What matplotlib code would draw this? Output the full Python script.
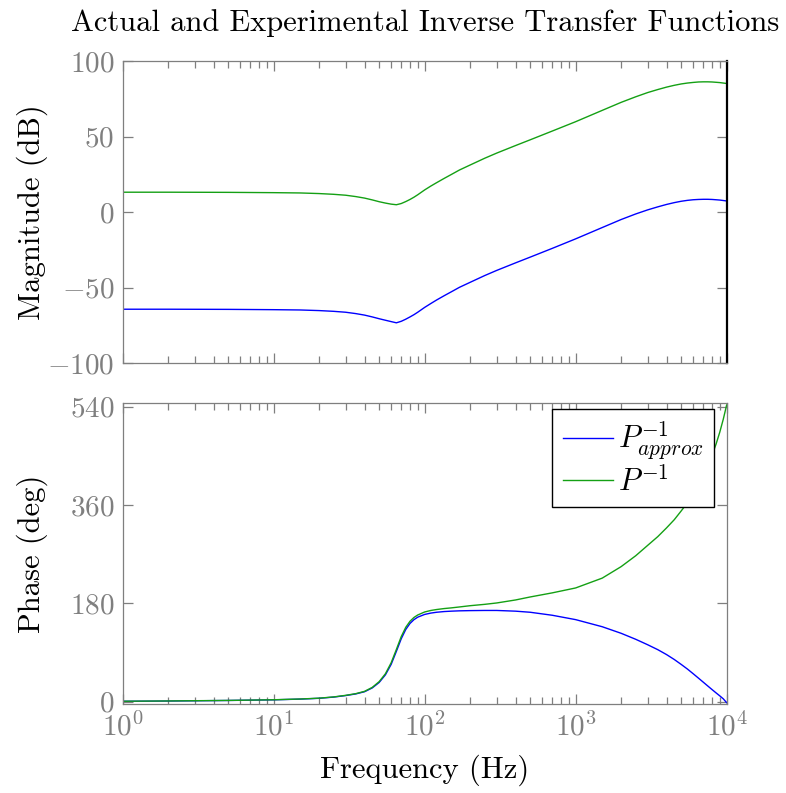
import matplotlib
matplotlib.use('Agg')
from matplotlib import pyplot as plt
from matplotlib.ticker import LogLocator, NullFormatter

plt.rcParams['font.family'] = ['cmr10', 'DejaVu Serif']
plt.rcParams['mathtext.fontset'] = 'cm'
plt.rcParams['axes.formatter.use_mathtext'] = True

# values
freq = [1, 2, 5, 10, 15, 20, 25, 30, 35, 40, 45, 50, 55, 60, 65, 70, 75, 80, 85, 90,
        100, 110, 120, 135, 150, 170, 200, 250, 300, 400, 500, 700, 1000, 1500,
        2000, 2500, 3000, 3500, 4000, 4500, 5000, 5500, 6000, 6500, 7000, 7500,
        8000, 8500, 9000, 9500, 10000]

mag_approx = [-64.2, -64.2, -64.3, -64.5, -64.7, -65.1, -65.6, -66.2, -67.1, -68.1,
              -69.3, -70.5, -71.5, -72.4, -73.2, -72.2, -70.8, -69.3, -67.8, -66.2,
              -63.0, -60.4, -58.1, -55.2, -52.7, -49.7, -46.4, -41.9, -38.5, -33.5,
              -29.7, -23.9, -17.6, -10.1, -4.8, -1.1, 1.6, 3.6, 5.2, 6.4, 7.3, 7.9,
              8.3, 8.5, 8.6, 8.6, 8.5, 8.3, 8.1, 7.8, 7.5]
mag_exact = [13.3, 13.3, 13.2, 13.0, 12.8, 12.4, 11.9, 11.3, 10.4, 9.4, 8.2, 7.0,
             6.1, 5.4, 5.0, 5.8, 7.1, 8.5, 10.0, 11.6, 14.8, 17.4, 19.6, 22.5, 25.0,
             28.0, 31.3, 35.8, 39.2, 44.2, 48.0, 53.8, 60.0, 67.5, 72.8, 76.5, 79.3,
             81.3, 82.9, 84.1, 85.0, 85.6, 86.0, 86.3, 86.4, 86.4, 86.3, 86.1, 85.9,
             85.6, 85.3]

ph_approx = [0.5, 1.0, 2.0, 3.2, 4.5, 6.0, 8.2, 11.0, 14.0, 18.0, 25.0, 35.0, 49.0,
             68.0, 92.0, 115.0, 132.0, 143.0, 150.0, 154.5, 159.5, 162.0, 163.5,
             164.8, 165.5, 166.1, 166.5, 166.8, 166.8, 165.5, 163.5, 158.0, 150.0,
             137.0, 125.0, 114.0, 104.0, 95.0, 86.0, 77.0, 68.0, 59.5, 51.0, 43.0,
             35.5, 28.5, 22.0, 16.0, 10.5, 5.0, -2.0]
ph_exact = [0.6, 1.1, 2.1, 3.3, 4.7, 6.2, 8.5, 11.4, 14.5, 18.7, 26.0, 36.5, 51.0,
            71.0, 95.5, 119.0, 136.0, 147.0, 154.0, 158.5, 164.0, 166.8, 168.5,
            170.3, 171.5, 173.2, 175.5, 178.0, 180.5, 186.0, 191.5, 199.0, 208.0,
            226.0, 247.0, 267.0, 286.0, 302.0, 318.0, 333.0, 349.0, 364.0, 379.0,
            395.0, 413.0, 432.0, 451.0, 471.0, 493.0, 517.0, 543.0]

BLUE = '#0000ff'
GREEN = '#14a014'
GREY = '#7f7f7f'
FS = 22
TICK_FS = 21

fig = plt.figure(figsize=(7.86, 7.93), dpi=100)
ax1 = fig.add_axes([0.156, 0.5419, 0.7685, 0.3808])
ax2 = fig.add_axes([0.156, 0.1122, 0.7685, 0.3792])


def style_axis(ax):
    ax.set_xscale('log')
    ax.set_xlim(1, 1e4)
    ax.xaxis.set_major_locator(LogLocator(base=10, numticks=10))
    ax.xaxis.set_minor_locator(LogLocator(base=10, subs=range(2, 10), numticks=50))
    ax.xaxis.set_minor_formatter(NullFormatter())
    ax.tick_params(which='both', direction='in', top=True, right=True,
                   color=GREY, labelcolor=GREY, labelsize=TICK_FS, width=0.9)
    ax.tick_params(which='major', length=7.5, pad=6)
    ax.tick_params(which='minor', length=4.8)
    for s in ax.spines.values():
        s.set_color(GREY)
        s.set_linewidth(0.9)


style_axis(ax1)
ax1.plot(freq, mag_approx, color=BLUE, lw=1.0)
ax1.plot(freq, mag_exact, color=GREEN, lw=1.0)
ax1.set_ylim(-100, 100)
ax1.set_yticks([-100, -50, 0, 50, 100])
ax1.tick_params(labelbottom=False)
ax1.spines['right'].set_color('black')
ax1.spines['right'].set_linewidth(1.6)
ax1.set_ylabel('Magnitude (dB)', fontsize=FS)
ax1.set_title('Actual and Experimental Inverse Transfer Functions', fontsize=FS, pad=22)

style_axis(ax2)
ax2.plot(freq, ph_approx, color=BLUE, lw=1.0, label=r'$P^{-1}_{approx}$')
ax2.plot(freq, ph_exact, color=GREEN, lw=1.0, label=r'$P^{-1}$')
ax2.set_ylim(-4.5, 546)
ax2.set_yticks([0, 180, 360, 540])
ax2.set_ylabel('Phase (deg)', fontsize=FS)
ax2.set_xlabel('Frequency (Hz)', fontsize=FS, labelpad=9)
leg = ax2.legend(loc='upper right', bbox_to_anchor=(0.979, 0.981), borderaxespad=0,
                 fontsize=FS, fancybox=False, framealpha=1, edgecolor='black',
                 handlelength=1.65, handletextpad=0.15, labelspacing=0.1,
                 borderpad=0.35)
leg.get_frame().set_linewidth(1.0)

# both y labels share the same left column
for ax in (ax1, ax2):
    ax.yaxis.set_label_coords(-0.124, 0.5)

fig.savefig('out.png', dpi=100)
